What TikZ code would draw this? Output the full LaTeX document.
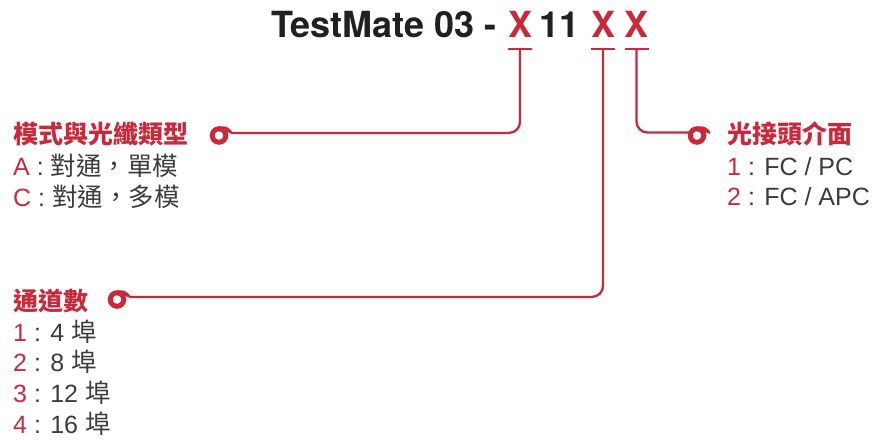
\documentclass[tikz,border=0pt]{standalone}
\usepackage{fontspec}
\usepackage{graphicx}
\usetikzlibrary{calc}
\setmainfont{TeX Gyre Heros}
\newfontfamily\cjk{Noto Sans CJK TC}
\newfontfamily\lat{Liberation Sans}
\definecolor{tmred}{RGB}{200,42,60}
\definecolor{tmtext}{RGB}{60,60,60}
\definecolor{tmblack}{RGB}{35,31,32}
\newcommand{\tmlat}[1]{{\lat\fontsize{25}{28}\selectfont #1}}
\newcommand{\tmred}[1]{{\lat\fontsize{25}{28}\selectfont\color{tmred}#1}}
\begin{document}
\begin{tikzpicture}[x=1pt,y=-1pt,
  ttl/.style={inner sep=0pt, anchor=base, font=\fontsize{36}{40}\selectfont\bfseries, text=tmblack},
  hdr/.style={inner sep=0pt, anchor=base west, font=\cjk\fontsize{25}{28}\selectfont\bfseries, text=tmred},
  itm/.style={inner sep=0pt, anchor=base west, font=\cjk\fontsize{25.5}{28}\selectfont, text=tmtext},
  lead/.style={draw=tmred, line width=2.3pt, rounded corners=11pt},
  tbar/.style={draw=tmred, line width=2.8pt},
  ring/.style={circle, draw=tmred, line width=5pt, minimum size=13.5pt, inner sep=0pt},
]
\useasboundingbox (0,0) rectangle (872,441);

% title
\node[ttl, anchor=base east] (tm) at (497,38) {TestMate 03 -};
\node[ttl, text=tmred] (x1) at (520,38) {X};
\node[ttl] (n11) at (559.5,38) {11};
\node[ttl, text=tmred] (x2) at (603,38) {X};
\node[ttl, text=tmred] (x3) at (636.5,38) {X};

% T bars
\coordinate (bary) at (0,49);
\coordinate (b1) at (x1.south |- bary);
\coordinate (b2) at (x2.south |- bary);
\coordinate (b3) at (x3.south |- bary);
\foreach \b in {b1,b2,b3}{
  \draw[tbar] ([xshift=-12pt]\b) -- ([xshift=12pt]\b);
}

% rings
\node[ring] (r1) at (219,135.5) {};
\node[ring] (r2) at (117,299.5) {};
\node[ring] (r3) at (697,135.5) {};
\foreach \r in {r1,r2,r3}{
  \fill[tmred] ($(\r.center)+(0,-9.25)$) .. controls ($(\r.center)+(8,-9.25)$) .. ($(\r.center)+(13,-4)$)
     -- ($(\r.center)+(13,-1.5)$) .. controls ($(\r.center)+(7,-4.25)$) .. ($(\r.center)+(0,-4.25)$) -- cycle;
}
\coordinate (t1) at ($(r1.center)+(12,-2.6)$);
\coordinate (t2) at ($(r2.center)+(12,-2.6)$);
\coordinate (t3) at ($(r3.center)+(-8,-3)$);

% leaders
\draw[lead] (b1) |- (t1);
\draw[lead] (b2) |- (t2);
\draw[lead] (b3) |- (t3);

% left group
\node[hdr] (h1) at (13,143) {模式與光纖類型};
\node[itm] (a1) at (13,175) {\tmred{A}\tmlat{ : }對通，單模};
\node[itm] (a2) at (13,206) {\tmred{C}\tmlat{ : }對通，多模};

% right group
\node[hdr] (h2) at (727,143) {光接頭介面};
\node[itm] (c1) at (727,175) {\tmred{1}\tmlat{ : FC / PC}};
\node[itm] (c2) at (727,205) {\tmred{2}\tmlat{ : FC / APC}};

% bottom group
\node[hdr] (h3) at (13,310) {通道數};
\node[itm] (d1) at (13,341) {\tmred{1}\tmlat{ : 4 }埠};
\node[itm] (d2) at (13,371) {\tmred{2}\tmlat{ : 8 }埠};
\node[itm] (d3) at (13,402) {\tmred{3}\tmlat{ : 12 }埠};
\node[itm] (d4) at (13,433) {\tmred{4}\tmlat{ : 16 }埠};
\end{tikzpicture}
\end{document}
